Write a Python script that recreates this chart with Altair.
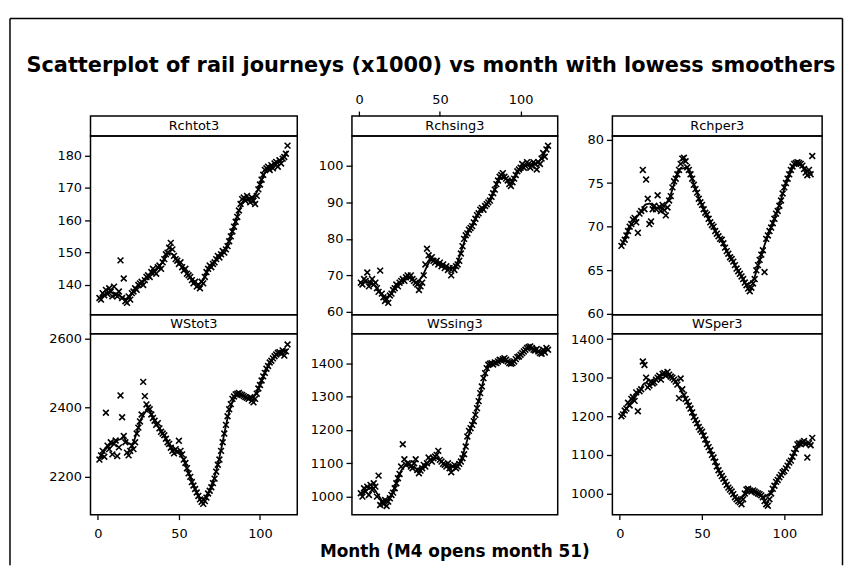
import altair as alt
import pandas as pd

months = list(range(1, 118))

rchtot3 = [136.0, 135.5, 137.5, 136.8, 138.5, 137.2, 139.0, 138.0, 136.5, 139.5, 137.0,
           136.5, 138.0, 147.6, 136.0, 142.0, 135.0, 134.5, 136.5, 135.5, 137.5,
           138.0, 139.0, 138.5, 140.0, 140.5, 141.0, 140.0, 141.5, 142.5,
           143.0, 142.5, 144.0, 145.0, 144.0, 143.5, 145.5, 146.0, 145.0, 147.0,
           148.0, 149.5, 150.0, 151.5, 153.0, 151.0,
           149.0, 148.0, 147.5, 146.5, 147.0, 145.5, 144.5, 145.0, 143.5,
           143.0, 142.5, 141.5, 140.5, 141.0, 139.5, 140.0, 139.0,
           141.0, 140.5, 142.5, 144.0, 145.0, 146.0, 145.5,
           146.5, 147.0, 148.0, 149.0, 148.5, 149.5, 150.5, 150.0, 151.0, 152.0,
           153.5, 155.0, 156.5, 158.0, 159.5, 161.0, 163.0, 165.0,
           166.5, 167.0, 166.0, 167.5, 166.5, 165.5, 167.0, 166.0, 165.0,
           167.5, 169.5, 171.0, 172.5, 174.0, 175.5, 176.0,
           176.5, 175.5, 177.0, 176.0, 177.5, 178.0, 176.5, 178.5, 177.5, 179.0, 179.5, 180.5, 183.0]

rchsing3 = [68.0, 67.5, 69.0, 68.5, 70.8, 67.0, 68.0, 69.0, 67.5, 68.0, 66.5,
            65.5, 71.3, 65.0, 64.0, 63.0, 63.5, 62.5,
            64.5, 65.0, 66.0, 66.5, 67.5, 67.0, 68.0, 68.5, 69.0, 68.5, 69.5, 70.0,
            69.5, 70.0, 69.0, 68.5, 68.0, 67.5, 66.0, 67.0,
            68.0, 70.0, 73.0, 77.3, 75.5, 74.5, 75.0,
            74.0, 73.5, 74.0, 73.0, 73.5, 72.5, 73.0, 72.0, 72.5, 71.5, 72.0, 70.0,
            72.0, 71.5, 72.5, 73.0, 74.0, 76.0, 78.0, 80.0, 81.0,
            81.5, 82.5, 83.0, 83.5, 84.5, 85.5, 86.5, 87.0, 88.0, 88.5, 88.0, 89.0,
            89.5, 90.0, 90.5, 91.5, 92.5, 93.5, 95.0, 96.0, 97.0, 97.5, 98.0, 97.0, 96.5,
            96.0, 95.0, 94.5, 95.5, 96.5, 97.5, 98.5, 99.0,
            99.5, 100.5, 99.5, 100.0, 101.0, 100.5, 99.5, 100.0, 101.0, 100.5, 99.0, 101.0,
            100.5, 102.0, 103.5, 102.5, 104.5, 105.5]

rchper3 = [67.8, 68.2, 68.5, 69.0, 69.5, 70.0, 70.3, 70.8, 71.0, 70.5,
           69.3, 71.5, 71.8, 76.5, 72.0, 75.4, 73.2, 70.3, 70.6, 72.0,
           72.4, 72.0, 73.6, 72.3, 71.8, 72.5, 71.9, 71.3, 72.2, 73.0,
           73.5, 74.5, 75.2, 75.5, 76.0, 76.5, 77.2, 77.8, 77.9, 77.5,
           76.8, 76.5, 76.0, 75.5, 74.8, 74.3, 73.9, 73.2, 72.8, 72.5,
           72.0, 71.6, 71.4, 70.9, 70.5, 70.2, 70.0, 69.5, 69.2, 68.9,
           68.6, 68.5, 68.1, 67.6, 67.2, 66.9, 66.5, 66.3, 66.0, 65.6,
           65.2, 64.9, 64.6, 64.3, 64.0, 63.6, 63.3, 62.9, 62.6, 63.0,
           63.5, 64.0, 65.0, 65.6, 66.2, 66.8, 67.3, 64.8, 68.6, 69.0,
           69.5, 69.9, 70.4, 70.9, 71.5, 71.8, 72.4, 73.0, 73.8, 74.5,
           75.0, 75.5, 76.0, 76.5, 76.9, 77.2, 77.3, 77.4, 77.3, 77.2,
           77.0, 76.6, 76.2, 75.9, 76.5, 76.0, 78.1]

wstot3 = [2250, 2262, 2275, 2258, 2385, 2290, 2280, 2300, 2265, 2295,
          2305, 2260, 2285, 2435, 2372, 2318, 2300, 2270, 2262, 2275,
          2290, 2280, 2300, 2325, 2342, 2360, 2380, 2474, 2433, 2409,
          2400, 2395, 2380, 2370, 2362, 2350, 2355, 2340, 2330, 2325,
          2320, 2310, 2300, 2295, 2284, 2275, 2268, 2280, 2272, 2304,
          2275, 2265, 2250, 2240, 2225, 2210, 2200, 2185, 2175, 2165,
          2155, 2145, 2135, 2128, 2122, 2130, 2140, 2152, 2160, 2170,
          2182, 2195, 2215, 2235, 2250, 2275, 2300, 2325, 2350, 2375,
          2395, 2410, 2425, 2432, 2438, 2440, 2442, 2438, 2436, 2433,
          2430, 2428, 2425, 2430, 2420, 2415, 2425, 2440, 2455, 2465,
          2478, 2490, 2500, 2512, 2520, 2530, 2535, 2542, 2548, 2553,
          2558, 2560, 2555, 2565, 2550, 2562, 2582]

wssing3 = [1010, 1000, 1025, 1015, 1030, 1005, 1035, 1020, 1040, 1030,
           1000, 1063, 975, 985, 978, 990, 972, 985, 995, 1005,
           1012, 1025, 1040, 1055, 1068, 1090, 1157, 1112, 1095, 1100,
           1098, 1090, 1085, 1100, 1112, 1080, 1070, 1078, 1085, 1095,
           1090, 1100, 1117, 1110, 1105, 1115, 1120, 1125, 1137, 1110,
           1105, 1098, 1095, 1090, 1100, 1085, 1073, 1090, 1095, 1085,
           1090, 1098, 1105, 1115, 1127, 1150, 1180, 1197, 1205, 1215,
           1226, 1245, 1265, 1286, 1310, 1330, 1355, 1370, 1385, 1395,
           1398, 1400, 1396, 1402, 1400, 1405, 1410, 1408, 1412, 1415,
           1410, 1405, 1400, 1398, 1400, 1405, 1412, 1418, 1420, 1425,
           1430, 1435, 1440, 1445, 1448, 1450, 1445, 1440, 1438, 1442,
           1435, 1430, 1428, 1440, 1432, 1445, 1440]

wsper3 = [1200, 1205, 1215, 1220, 1235, 1228, 1245, 1250, 1240, 1262,
          1213, 1265, 1270, 1342, 1333, 1300, 1275, 1280, 1290, 1285,
          1288, 1295, 1300, 1305, 1295, 1310, 1312, 1305, 1315, 1308,
          1303, 1300, 1295, 1290, 1282, 1247, 1298, 1270, 1255, 1245,
          1238, 1228, 1220, 1210, 1198, 1190, 1182, 1172, 1165, 1160,
          1150, 1140, 1128, 1120, 1112, 1100, 1093, 1082, 1070, 1060,
          1052, 1045, 1038, 1030, 1022, 1015, 1010, 1005, 998, 990,
          985, 980, 977, 972, 985, 1000, 1010, 1012, 1008, 1005,
          1008, 1005, 1002, 1000, 998, 995, 990, 980, 972, 968,
          985, 1000, 1012, 1020, 1030, 1035, 1042, 1048, 1055, 1058,
          1065, 1072, 1080, 1085, 1095, 1105, 1115, 1127, 1130, 1128,
          1132, 1136, 1128, 1093, 1130, 1125, 1144]

panel_names = ["Rchtot3", "Rchsing3", "Rchper3", "WStot3", "WSsing3", "WSper3"]
y_ticks = [[140, 150, 160, 170, 180], [60, 70, 80, 90, 100], [60, 65, 70, 75, 80],
           [2200, 2400, 2600], [1000, 1100, 1200, 1300, 1400], [1000, 1100, 1200, 1300, 1400]]
y_domains = [[130.8, 186.0], [59.2, 108.2], [59.9, 80.4],
             [2091, 2613], [946, 1488], [945, 1414]]
x_ticks = [0, 50, 100]
x_domain = [-4.5, 123]

title_text = "Scatterplot of rail journeys (x1000) vs month with lowess smoothers"
xlabel_text = "Month (M4 opens month 51)"

FONT = "DejaVu Sans"
XPATH = "M-1,-1L1,1M-1,1L1,-1"
col_widths = [208, 207, 211]


def y_axis(vals):
    return alt.Axis(values=vals, title=None, grid=False, domain=False, tickSize=6,
                    tickColor="black", tickWidth=1.3, labelFont=FONT, labelFontSize=13,
                    labelColor="black", labelPadding=3, format="d")


def x_axis(orient):
    return alt.Axis(values=x_ticks, orient=orient, title=None, grid=False, domain=False,
                    tickSize=5, tickColor="black", tickWidth=1.3, labelFont=FONT,
                    labelFontSize=13, labelColor="black",
                    labelPadding=8 if orient == "bottom" else 5, format="d")


def panel(vals, ydom, yticks, w, h, bottom_axis, extra=None):
    df = pd.DataFrame({"month": months, "value": vals})
    xenc = alt.X("month:Q", scale=alt.Scale(domain=x_domain, nice=False, zero=False),
                 axis=x_axis("bottom") if bottom_axis else None)
    yenc = alt.Y("value:Q", scale=alt.Scale(domain=ydom, nice=False, zero=False),
                 axis=y_axis(yticks))
    pts = alt.Chart(df).mark_point(shape=XPATH, filled=False, size=34, strokeWidth=1.6,
                                   color="black", opacity=1).encode(x=xenc, y=yenc)
    line = alt.Chart(df).transform_loess("month", "value", bandwidth=0.1).mark_line(
        color="black", strokeWidth=1.8).encode(x=xenc, y=yenc)
    layers = [pts, line] + (extra or [])
    return alt.layer(*layers).properties(width=w, height=h)


def strip(label, w, h, top_axis=False, extra=None):
    d = pd.DataFrame({"label": [label], "month": [0]})
    txt = alt.Chart(d).mark_text(font=FONT, fontSize=13, color="black", baseline="middle",
                                 align="center").encode(
        text="label:N", x=alt.value(w / 2), y=alt.value(h / 2))
    layers = [txt]
    if top_axis:
        ax = alt.Chart(d).mark_point(opacity=0).encode(
            x=alt.X("month:Q", scale=alt.Scale(domain=x_domain, nice=False, zero=False),
                    axis=x_axis("top")))
        layers.append(ax)
    layers += (extra or [])
    return alt.layer(*layers).properties(width=w, height=h)


one = pd.DataFrame({"a": [0]})
# outer frame (left, top, right) and main title, placed in the top-left strip's coordinates
frame = [
    alt.Chart(one).mark_rule(color="black", strokeWidth=1.5).encode(
        x=alt.value(-81), y=alt.value(-98), y2=alt.value(452)),
    alt.Chart(one).mark_rule(color="black", strokeWidth=1.5).encode(
        x=alt.value(-81), x2=alt.value(756.5), y=alt.value(-98)),
    alt.Chart(one).mark_rule(color="black", strokeWidth=1.5).encode(
        x=alt.value(756.5), y=alt.value(-98), y2=alt.value(452)),
    alt.Chart(pd.DataFrame({"t": [title_text]})).mark_text(
        font=FONT, fontSize=21, fontWeight="bold", color="black", baseline="middle",
        align="center").encode(text="t:N", x=alt.value(342.5), y=alt.value(-50)),
]
xlabel = [
    alt.Chart(pd.DataFrame({"t": [xlabel_text]})).mark_text(
        font=FONT, fontSize=17, fontWeight="bold", color="black", baseline="middle",
        align="center").encode(text="t:N", x=alt.value(103.5), y=alt.value(220)),
]

series = [rchtot3, rchsing3, rchper3, wstot3, wssing3, wsper3]
cells = []
# row 1: top strips, row 2: top panels, row 3: bottom strips, row 4: bottom panels
for c in range(3):
    cells.append(strip(panel_names[c], col_widths[c], 20, top_axis=(c == 1),
                       extra=frame if c == 0 else None))
for c in range(3):
    cells.append(panel(series[c], y_domains[c], y_ticks[c], col_widths[c], 180, False))
for c in range(3):
    cells.append(strip(panel_names[c + 3], col_widths[c], 19))
for c in range(3):
    cells.append(panel(series[c + 3], y_domains[c + 3], y_ticks[c + 3], col_widths[c], 182,
                       c != 1, extra=xlabel if c == 1 else None))

chart = alt.concat(*cells, columns=3, spacing={"row": 0, "column": 55}, bounds="flush",
                   align="each").properties(
    padding={"left": 0, "top": 7, "right": 0, "bottom": 0},
    background="white",
).configure_view(stroke="black", strokeWidth=1.5)

chart.save("out.html", embed_options={"renderer": "svg", "actions": False})
